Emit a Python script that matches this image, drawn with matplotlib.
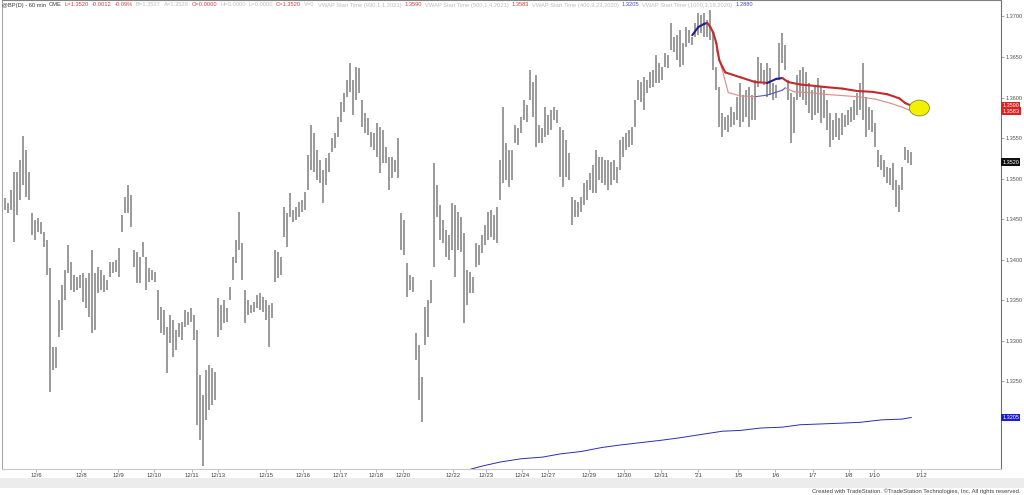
import matplotlib
matplotlib.use("Agg")
import matplotlib.pyplot as plt
from matplotlib.collections import LineCollection
from matplotlib.patches import Ellipse, Rectangle
from matplotlib.transforms import blended_transform_factory
import numpy as np

plt.rcParams['font.family'] = ['Liberation Sans', 'DejaVu Sans']

# ---------------- data (hourly GBPUSD bars, Dec 2020 - Jan 2021) ----------------
highs = [
    1.3473, 1.3476, 1.3470, 1.3486, 1.3508, 1.3508, 1.3523, 1.3552, 1.3535, 1.3508,
    1.3457, 1.3449, 1.3451, 1.3446, 1.3434, 1.3424, 1.3389, 1.3292, 1.3292, 1.3350,
    1.3368, 1.3387, 1.3418, 1.3397, 1.3381, 1.3378, 1.3381, 1.3383, 1.3377, 1.3383,
    1.3412, 1.3383, 1.3391, 1.3387, 1.3381, 1.3375, 1.3397, 1.3397, 1.3399, 1.3414,
    1.3455, 1.3477, 1.3492, 1.3480, 1.3412, 1.3409, 1.3403, 1.3422, 1.3403, 1.3389,
    1.3387, 1.3385, 1.3362, 1.3341, 1.3338, 1.3317, 1.3331, 1.3325, 1.3313, 1.3322,
    1.3323, 1.3338, 1.3335, 1.3340, 1.3331, 1.3313, 1.3257,
    1.3233, 1.3264, 1.3270, 1.3266, 1.3261, 1.3352, 1.3344, 1.3350, 1.3340, 1.3366,
    1.3403, 1.3424, 1.3459, 1.3420, 1.3362, 1.3350, 1.3344, 1.3348, 1.3356, 1.3359,
    1.3354, 1.3350, 1.3344, 1.3346, 1.3412, 1.3409, 1.3403, 1.3465, 1.3457, 1.3482,
    1.3461, 1.3465, 1.3471, 1.3473, 1.3483, 1.3529, 1.3566, 1.3556, 1.3535, 1.3523,
    1.3511, 1.3525, 1.3531, 1.3550, 1.3556, 1.3576, 1.3594, 1.3606, 1.3622, 1.3643,
    1.3622, 1.3638, 1.3636, 1.3597, 1.3581, 1.3575, 1.3557, 1.3556, 1.3569, 1.3564,
    1.3560, 1.3539, 1.3527, 1.3527, 1.3523, 1.3550,
    1.3457, 1.3449, 1.3396, 1.3381, 1.3378, 1.3309, 1.3294, 1.3255, 1.3341, 1.3350,
    1.3375, 1.3519, 1.3492, 1.3467, 1.3449, 1.3436, 1.3430, 1.3470, 1.3467, 1.3459,
    1.3452, 1.3433, 1.3387, 1.3385, 1.3378, 1.3420, 1.3418, 1.3430, 1.3443, 1.3459,
    1.3461, 1.3455, 1.3465, 1.3523, 1.3588, 1.3544, 1.3535, 1.3535, 1.3566, 1.3562,
    1.3576, 1.3597, 1.3591, 1.3634, 1.3619, 1.3628, 1.3566, 1.3562, 1.3588, 1.3578,
    1.3585, 1.3588, 1.3585, 1.3564, 1.3560, 1.3548, 1.3531, 1.3477, 1.3473, 1.3471,
    1.3477, 1.3494, 1.3498, 1.3507, 1.3517, 1.3535, 1.3527,
    1.3527, 1.3523, 1.3523, 1.3520, 1.3523, 1.3514, 1.3548, 1.3551, 1.3556, 1.3560,
    1.3564, 1.3597, 1.3622, 1.3619, 1.3625, 1.3622, 1.3631, 1.3634, 1.3653, 1.3643,
    1.3638, 1.3655, 1.3653, 1.3692, 1.3675, 1.3677, 1.3683, 1.3667, 1.3687, 1.3683,
    1.3675, 1.3692, 1.3704, 1.3702, 1.3704, 1.3696, 1.3708, 1.3680, 1.3638, 1.3613,
    1.3581, 1.3576, 1.3578, 1.3588, 1.3582, 1.3601, 1.3618, 1.3603, 1.3609, 1.3613,
    1.3603, 1.3622, 1.3650, 1.3643, 1.3634, 1.3643, 1.3636, 1.3618, 1.3615, 1.3667,
    1.3680, 1.3665, 1.3622, 1.3606, 1.3601, 1.3628, 1.3634,
    1.3638, 1.3631, 1.3618, 1.3609, 1.3615, 1.3624, 1.3613, 1.3609, 1.3597, 1.3581,
    1.3572, 1.3581, 1.3575, 1.3581, 1.3578, 1.3585, 1.3588, 1.3597, 1.3606, 1.3618,
    1.3643, 1.3601, 1.3588, 1.3585, 1.3569, 1.3535, 1.3529, 1.3523, 1.3514, 1.3513,
    1.3519, 1.3498, 1.3492, 1.3514, 1.3539, 1.3535, 1.3533,
]
lows = [
    1.3459, 1.3461, 1.3457, 1.3461, 1.3422, 1.3455, 1.3473, 1.3492, 1.3477, 1.3473,
    1.3430, 1.3424, 1.3434, 1.3431, 1.3415, 1.3381, 1.3236, 1.3264, 1.3266, 1.3304,
    1.3313, 1.3350, 1.3383, 1.3362, 1.3360, 1.3362, 1.3365, 1.3348, 1.3340, 1.3329,
    1.3309, 1.3313, 1.3359, 1.3362, 1.3360, 1.3362, 1.3378, 1.3383, 1.3385, 1.3378,
    1.3434, 1.3457, 1.3457, 1.3440, 1.3391, 1.3371, 1.3371, 1.3403, 1.3362, 1.3372,
    1.3375, 1.3372, 1.3325, 1.3309, 1.3307, 1.3260, 1.3297, 1.3280, 1.3288, 1.3304,
    1.3301, 1.3317, 1.3319, 1.3323, 1.3301, 1.3196, 1.3177,
    1.3145, 1.3202, 1.3214, 1.3220, 1.3227, 1.3304, 1.3313, 1.3322, 1.3323, 1.3350,
    1.3375, 1.3396, 1.3412, 1.3375, 1.3322, 1.3331, 1.3334, 1.3335, 1.3340, 1.3338,
    1.3335, 1.3325, 1.3292, 1.3328, 1.3372, 1.3377, 1.3381, 1.3428, 1.3415, 1.3452,
    1.3446, 1.3449, 1.3452, 1.3459, 1.3461, 1.3486, 1.3511, 1.3508, 1.3498, 1.3494,
    1.3470, 1.3492, 1.3508, 1.3533, 1.3538, 1.3551, 1.3570, 1.3582, 1.3601, 1.3607,
    1.3578, 1.3597, 1.3606, 1.3564, 1.3556, 1.3554, 1.3539, 1.3535, 1.3527, 1.3507,
    1.3519, 1.3519, 1.3486, 1.3501, 1.3508, 1.3501,
    1.3412, 1.3406, 1.3354, 1.3362, 1.3360, 1.3276, 1.3227, 1.3199, 1.3294, 1.3304,
    1.3346, 1.3391, 1.3452, 1.3424, 1.3420, 1.3403, 1.3399, 1.3412, 1.3378, 1.3412,
    1.3409, 1.3322, 1.3344, 1.3359, 1.3359, 1.3391, 1.3393, 1.3408, 1.3418, 1.3424,
    1.3428, 1.3424, 1.3420, 1.3473, 1.3494, 1.3498, 1.3489, 1.3498, 1.3544, 1.3541,
    1.3556, 1.3572, 1.3570, 1.3597, 1.3576, 1.3539, 1.3544, 1.3544, 1.3551, 1.3554,
    1.3560, 1.3572, 1.3569, 1.3502, 1.3489, 1.3502, 1.3498, 1.3443, 1.3452, 1.3452,
    1.3459, 1.3467, 1.3473, 1.3486, 1.3482, 1.3482, 1.3498,
    1.3494, 1.3492, 1.3486, 1.3492, 1.3498, 1.3494, 1.3511, 1.3527, 1.3535, 1.3539,
    1.3541, 1.3564, 1.3597, 1.3594, 1.3585, 1.3606, 1.3612, 1.3613, 1.3618, 1.3618,
    1.3622, 1.3638, 1.3636, 1.3659, 1.3656, 1.3646, 1.3638, 1.3640, 1.3662, 1.3667,
    1.3665, 1.3675, 1.3677, 1.3680, 1.3675, 1.3675, 1.3671, 1.3634, 1.3609, 1.3564,
    1.3551, 1.3560, 1.3557, 1.3564, 1.3566, 1.3572, 1.3564, 1.3570, 1.3576, 1.3564,
    1.3572, 1.3572, 1.3613, 1.3618, 1.3615, 1.3601, 1.3603, 1.3597, 1.3599, 1.3622,
    1.3643, 1.3634, 1.3597, 1.3544, 1.3556, 1.3597, 1.3601,
    1.3597, 1.3591, 1.3581, 1.3572, 1.3578, 1.3581, 1.3569, 1.3575, 1.3560, 1.3539,
    1.3548, 1.3551, 1.3548, 1.3554, 1.3564, 1.3566, 1.3570, 1.3572, 1.3578, 1.3585,
    1.3572, 1.3551, 1.3560, 1.3557, 1.3539, 1.3514, 1.3511, 1.3502, 1.3494, 1.3492,
    1.3486, 1.3465, 1.3459, 1.3486, 1.3523, 1.3519, 1.3517,
]

# VWAP (930,1,1,2021)
vwap_jan1_bar = [230, 232, 234, 235, 236, 237, 238, 239, 240, 241, 246, 251, 255,
                 258, 260, 262, 266, 269, 274, 280, 285, 290, 295, 299, 301, 303]
vwap_jan1 = [1.3677, 1.3687, 1.3691, 1.3692, 1.3687, 1.3680, 1.3667, 1.3646, 1.3638,
             1.3631, 1.3625, 1.3619, 1.3618, 1.3623, 1.3624, 1.3619, 1.3616, 1.3615,
             1.3613, 1.3611, 1.3608, 1.3607, 1.3604, 1.3599, 1.3593, 1.3590]
# VWAP (500,1,4,2021)
vwap_jan4_bar = [238, 240, 242, 246, 251, 255, 260, 261, 264, 269, 274, 285, 291,
                 296, 300, 302, 303]
vwap_jan4 = [1.3659, 1.3634, 1.3606, 1.3602, 1.3601, 1.3603, 1.3609, 1.3612, 1.3607,
             1.3606, 1.3604, 1.3601, 1.3598, 1.3593, 1.3588, 1.3585, 1.3583]
# VWAP (400,9,23,2020)
vwap_sep23_bar = [155, 160, 166, 173, 180, 186, 193, 200, 206, 213, 220, 226, 233,
                  240, 246, 253, 260, 266, 273, 280, 286, 293, 300, 303]
vwap_sep23 = [1.3140, 1.3145, 1.3150, 1.3154, 1.3156, 1.3160, 1.3163, 1.3168, 1.3171,
              1.3174, 1.3177, 1.3180, 1.3184, 1.3188, 1.3189, 1.3192, 1.3193, 1.3196,
              1.3197, 1.3198, 1.3199, 1.3202, 1.3203, 1.3205]

date_labels = ["12/6", "12/8", "12/9", "12/10", "12/11", "12/13", "12/15", "12/16",
               "12/17", "12/18", "12/20", "12/22", "12/23", "12/24", "12/27", "12/29",
               "12/30", "12/31", "'21", "1/5", "1/6", "1/7", "1/8", "1/10", "1/12"]
date_bars = [11.3, 26.3, 38.7, 50.7, 63.3, 72, 88, 100.3, 112.7, 124.7, 133.7, 150.3,
             161.3, 173.3, 182, 195.7, 207.3, 219.7, 232, 245.3, 257.7, 270.3, 282.3,
             290.7, 306.3]

price_ticks = [1.3250, 1.3300, 1.3350, 1.3400, 1.3450, 1.3500, 1.3550, 1.3600,
               1.3650, 1.3700]

last_price = 1.3520
vwap_last = [1.3590, 1.3583, 1.3205]
marker_bar = 305.7
marker_price = 1.3587

header_parts = [
    ("@BP(D) - 60 min", "#3a3a3a"), ("CME", "#3a3a3a"),
    ("L=1.3520", "#d04040"), ("-0.0012", "#d04040"), ("-0.09%", "#d04040"),
    ("B=1.3527", "#bdbdbd"), ("A=1.3529", "#bdbdbd"), ("O=0.0000", "#d04040"),
    ("H=0.0000", "#bdbdbd"), ("L=0.0000", "#bdbdbd"), ("C=1.3520", "#d04040"),
    ("V=0", "#bdbdbd"), ("VWAP Start Time (930,1,1,2021)", "#bdbdbd"),
    ("1.3590", "#d04040"), ("VWAP Start Time (500,1,4,2021)", "#bdbdbd"),
    ("1.3583", "#d04040"), ("VWAP Start Time (400,9,23,2020)", "#bdbdbd"),
    ("1.3205", "#4a4ac0"), ("VWAP Start Time (1000,3,19,2020)", "#bdbdbd"),
    ("1.2880", "#4a4ac0"),
]

# ---------------- figure ----------------
W, H = 1024, 495
fig = plt.figure(figsize=(W / 100, H / 100), dpi=100)
fig.patch.set_facecolor("white")
ax = fig.add_axes([2 / W, (H - 469) / H, 999 / W, 469 / H])
ax.set_facecolor("white")

idx = np.arange(len(highs))
ax.vlines(idx, lows, highs, colors="#8e8e8e", linewidth=1.25)


def slope_colored(xs, ys, up, down, lw, z):
    xs = np.asarray(xs, float)
    ys = np.asarray(ys, float)
    segs = [[(xs[k], ys[k]), (xs[k + 1], ys[k + 1])] for k in range(len(xs) - 1)]
    cols = [up if ys[k + 1] > ys[k] else down for k in range(len(xs) - 1)]
    lc = LineCollection(segs, colors=cols, linewidths=lw, zorder=z,
                        capstyle="round", joinstyle="round")
    ax.add_collection(lc)


slope_colored(vwap_jan4_bar, vwap_jan4, "#5a5ab8", "#dc8a8a", 0.8, 3)
slope_colored(vwap_jan1_bar, vwap_jan1, "#1e1e96", "#c42a2a", 1.5, 4)
ax.plot(vwap_sep23_bar, vwap_sep23, color="#2e2ea8", linewidth=0.7, zorder=3)

ax.add_patch(Ellipse((marker_bar, marker_price), 6.7, 0.00195, facecolor="#f2f200",
                     edgecolor="#8a8a20", linewidth=0.6, zorder=5))

ax.set_xlim(-0.1, 332.9)
ax.set_ylim(1.314136, 1.372037)

ax.yaxis.tick_right()
ax.set_yticks(price_ticks)
ax.set_yticklabels([f"{p:.4f}" for p in price_ticks])
ax.tick_params(axis="y", which="both", left=False, right=True, labelleft=False,
               labelright=True, length=2.5, width=0.5, color="#808080",
               labelsize=4, labelcolor="#505050", pad=1)
ax.set_xticks(date_bars)
ax.set_xticklabels(date_labels)
ax.tick_params(axis="x", length=2, width=0.5, color="#909090", labelsize=4.3,
               labelcolor="#404040", pad=1.2)

for side, col in [("left", "#a8a8a8"), ("top", "#808080"), ("right", "#707070"),
                  ("bottom", "#c8c8c8")]:
    ax.spines[side].set_color(col)
    ax.spines[side].set_linewidth(0.8)

# price boxes on the right axis
tr = blended_transform_factory(ax.transAxes, ax.transData)
box_specs = [(vwap_last[0], "#e02020"), (vwap_last[1], "#e02020"),
             (last_price, "#101010"), (vwap_last[2], "#1c1cd8")]
for val, col in box_specs:
    ax.text(1.0012, val, f"{val:.4f}", transform=tr, ha="left", va="center",
            fontsize=4, color="white", clip_on=False, zorder=6,
            bbox=dict(boxstyle="square,pad=0.25", facecolor=col, edgecolor="none"))

# scroll band and footer
fig.patches.append(Rectangle((0, (H - 488) / H), 1, 10 / H, transform=fig.transFigure,
                             facecolor="#ececec", edgecolor="none", zorder=0))
fig.text(1020 / W, 1 - 491.5 / H,
         "Created with TradeStation. \u00a9TradeStation Technologies, Inc. All rights reserved.",
         ha="right", va="center", fontsize=4.2, color="#404040")

# header line
fig.canvas.draw()
renderer = fig.canvas.get_renderer()
xpos = 2
for txt, col in header_parts:
    t = fig.text(xpos / W, 1 - 5 / H, txt, color=col, fontsize=4.15, ha="left",
                 va="center")
    bb = t.get_window_extent(renderer)
    xpos = bb.x1 + 3

fig.savefig("out.png", dpi=100, facecolor="white")
